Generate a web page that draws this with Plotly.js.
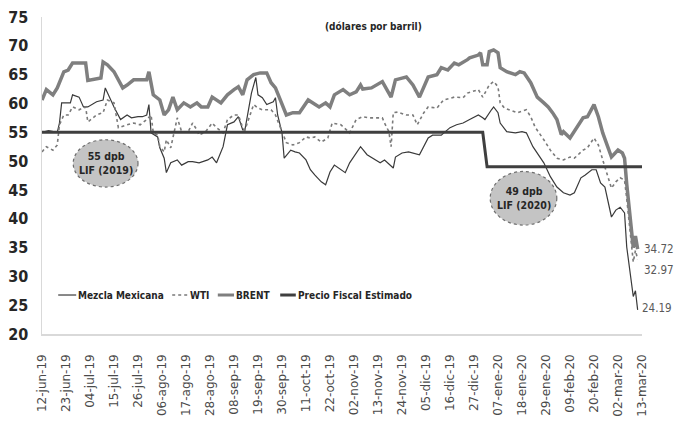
<!DOCTYPE html>
<html><head><meta charset="utf-8">
<script src="https://cdn.plot.ly/plotly-3.0.1.min.js"></script>
<style>html,body{margin:0;padding:0;background:#fff}#chart{width:682px;height:427px}</style>
</head><body><div id="chart"></div>
<script>
// ---- DATA (days counted from 12-jun-2019) ----
const startDate = '2019-06-12';
const brentDays = [0,2,5,7,10,12,14,20,21,27,28,30,33,37,39,42,48,49,51,54,56,58,60,62,65,68,71,73,76,78,82,85,88,90,92,94,97,100,103,105,107,110,112,115,118,122,124,127,130,132,134,138,141,144,146,147,151,155,156,160,162,165,167,170,173,177,181,183,186,189,191,195,196,200,201,202,204,205,207,209,210,213,217,219,221,224,227,230,232,234,236,238,239,242,245,248,250,253,255,257,261,264,266,267,268,271,272,273];
const brentVals = [60.6,62.4,61.5,62.7,65.5,65.8,67,67,64,64.4,67.2,66.7,65.5,62.7,63.2,64.1,64.1,65.5,61.5,60.6,58,58.9,61.1,58.9,60.1,59.4,60.1,59.4,59.4,61.1,60.1,61.5,62.4,62.9,61.5,64.1,65,65.3,65.3,63.6,62.7,60.1,58,58.4,58.4,60.6,60.1,59.4,60.1,59.4,61.5,62.4,61.5,62,63.2,62.5,62.7,63.6,63.8,61.1,64.1,64.4,64.6,63.2,61.1,64.6,65,66.2,65.8,67,66.7,67.6,67.9,68.4,68.8,66.7,66.7,69,69.3,68.8,66.2,65.5,65,65.5,65.3,63.6,61.1,60.1,59.4,58.4,57.2,54.6,55.1,54,55.9,57.5,57.7,59.8,57.7,54.9,50.7,51.9,51.4,50.5,46,35,37,34.72];
const wtiDays = [0,2,5,7,8,10,12,14,17,20,21,25,28,30,33,35,39,42,45,48,50,51,53,54,56,57,59,62,64,67,69,71,72,75,78,80,83,85,88,90,92,93,97,99,101,105,107,110,112,115,118,121,123,125,128,131,133,137,141,144,147,150,156,157,159,160,161,163,167,170,172,175,177,181,184,189,193,195,200,202,205,207,209,210,212,218,222,224,226,230,233,236,239,242,244,248,250,253,255,257,261,263,265,267,268,271,272,273];
const wtiVals = [51.6,52.5,51.9,52.8,56.3,58,58,59.4,58.9,59.4,56.8,58,58.4,60.6,60.1,55.8,56.3,56.6,56.3,57.2,58,54.9,54.5,52.5,51.6,53.7,52.3,57.5,55.1,55.1,56.6,55.4,54.5,55.1,56.6,55.8,54.9,57.2,58,58,55.8,55.4,59.8,59.2,58.9,58.9,58,54.9,53.2,52.8,53.2,54.2,54,54.2,53.3,54,56.6,56.3,54.9,57.2,57.7,57.5,57.5,56.6,55.1,52.5,58.4,58.5,58,58,56.3,58.4,59.4,59.2,60.6,61.1,61,61.8,62.4,61.1,63.2,63.8,62.9,60.1,59.2,58.4,58.9,57.7,55.9,53.7,51.9,50.5,50.2,50.7,50.5,51.9,52.3,54,52.8,50.2,45.3,46.4,47.1,46.7,43.5,32.5,34.5,32.97];
const mezDays = [0,3,7,8,9,13,14,17,19,21,25,28,29,30,33,36,39,41,44,46,48,49,50,53,54,56,57,59,62,64,67,69,72,76,78,80,83,85,88,90,92,93,96,98,99,101,103,106,107,108,110,111,114,116,118,121,123,125,128,130,132,134,137,139,141,146,149,155,157,161,162,165,168,170,173,177,179,183,185,187,190,193,196,200,202,203,206,207,209,210,213,217,220,222,225,228,230,233,236,239,242,244,245,247,249,252,254,256,258,261,263,265,267,268,271,272,273];
const mezVals = [55,55.3,55,56.6,60.1,60.1,61.5,61.1,59.4,59.4,60.3,60.6,62.7,61.8,59.4,57.2,58,57.5,57.7,57.7,58,59.8,54.9,54.2,52.3,50.5,48,49.7,50.2,49.3,49.9,49.9,49.7,50.2,50.7,49.7,52.5,56.3,56.8,57.7,55.4,55.4,61.8,64.5,61.5,61,59.8,60.3,61,58,54.9,50.5,51.9,51.6,51.4,50.2,48.5,47.6,46.4,45.9,48.1,49.3,48.5,48,49.7,52.5,51.1,49.7,50.2,48.8,50.7,51.4,51.6,51.4,51.1,54,54.5,54.5,55.1,55.8,56.3,56.6,57.2,58,57.5,57.2,58.9,59.4,58.4,56.6,55.1,54.9,55.1,54.9,52.5,50.7,49.7,47.3,45.5,44.5,44.1,44.5,45.3,47.1,47.6,48.5,48.5,46.2,45.5,40.3,41.5,42,41,35.1,26.5,27.5,24.19];
const fiscalDates = ['2019-06-12','2019-12-31','2020-01-02','2020-03-13'];
const fiscalVals = [55,55,49,49];
const tickDates = ['2019-06-12','2019-06-23','2019-07-04','2019-07-15','2019-07-26','2019-08-06','2019-08-17','2019-08-28','2019-09-08','2019-09-19','2019-09-30','2019-10-11','2019-10-22','2019-11-02','2019-11-13','2019-11-24','2019-12-05','2019-12-16','2019-12-27','2020-01-07','2020-01-18','2020-01-29','2020-02-09','2020-02-20','2020-03-02','2020-03-13'];
const tickLabels = ['12-jun-19','23-jun-19','04-jul-19','15-jul-19','26-jul-19','06-ago-19','17-ago-19','28-ago-19','08-sep-19','19-sep-19','30-sep-19','11-oct-19','22-oct-19','02-nov-19','13-nov-19','24-nov-19','05-dic-19','16-dic-19','27-dic-19','07-ene-20','18-ene-20','29-ene-20','09-feb-20','20-feb-20','02-mar-20','13-mar-20'];
const seriesNames = ['Mezcla Mexicana','WTI','BRENT','Precio Fiscal Estimado'];
const noteTexts = ['55 dpb<br>LIF (2019)','49 dpb<br>LIF (2020)'];
const titleText = '(dólares por barril)';

function toDate(d){ return new Date(Date.UTC(2019,5,12) + d*86400000).toISOString().slice(0,10); }
const brentX = brentDays.map(toDate), wtiX = wtiDays.map(toDate), mezX = mezDays.map(toDate);

const NARROW = '"DejaVu Sans Condensed", "Liberation Sans Narrow", "Liberation Sans", sans-serif';
const styles = [
  {color:'#3a3a3a', width:1.2},
  {color:'#7a7a7a', width:1.6, dash:'dot'},
  {color:'#7f7f7f', width:3.5},
  {color:'#3f3f3f', width:3}
];
const traces = [
  {x: mezX, y: mezVals, name: seriesNames[0], mode:'lines', line:styles[0]},
  {x: wtiX, y: wtiVals, name: seriesNames[1], mode:'lines', line:styles[1]},
  {x: brentX, y: brentVals, name: seriesNames[2], mode:'lines', line:styles[2]},
  {x: fiscalDates, y: fiscalVals, name: seriesNames[3], mode:'lines', line:styles[3]}
];
const last = a => a[a.length-1];
const lblFont = {family: NARROW, size: 11.5, color:'#595959'};
const boldFont = {family: NARROW, size: 10, color:'#262626', weight:'bold'};
const noteFont = {family: NARROW, size: 10.5, color:'#262626', weight:'bold'};

// custom legend (paper coordinates)
const legY = 0.123;
const legItems = [[0.027,0.057,0.060],[0.217,0.243,0.246],[0.293,0.320,0.323],[0.397,0.423,0.426]];
const legShapes = legItems.map((it,i)=>({type:'line', xref:'paper', yref:'paper', x0:it[0], x1:it[1], y0:legY, y1:legY,
  line:{color:styles[i].color, width:Math.min(styles[i].width,3), dash:styles[i].dash||'solid'}}));
const legAnn = legItems.map((it,i)=>({xref:'paper', yref:'paper', x:it[2], y:legY, xanchor:'left', yanchor:'middle', xshift:-2,
  text:seriesNames[i], showarrow:false, font:boldFont}));

const layout = {
  width: 682, height: 427,
  margin: {l:42, r:40, t:17, b:93},
  paper_bgcolor:'#fff', plot_bgcolor:'#fff',
  showlegend: false,
  xaxis: {type:'date', range:['2019-06-12','2020-03-13'], tickmode:'array', tickvals: tickDates, ticktext: tickLabels,
          tickangle:-90, tickfont:{family:'DejaVu Sans', size:12, color:'#4a4a4a'}, ticks:'', ticklabelstandoff:14,
          showgrid:false, zeroline:false, showline:true, linecolor:'#d9d9d9', linewidth:1.5},
  yaxis: {range:[20,75], tickmode:'array', tickvals:[20,25,30,35,40,45,50,55,60,65,70,75],
          tickfont:{family:NARROW, size:16, color:'#262626', weight:'bold'}, ticks:'', ticklabelstandoff:9,
          showgrid:false, zeroline:false, showline:true, linecolor:'#d9d9d9', linewidth:1.5},
  shapes: [
    {type:'circle', xref:'paper', yref:'y', x0:0.052, x1:0.160, y0:45.5, y1:53.7, fillcolor:'#c4c4c4', line:{color:'#6e6e6e', width:1.2, dash:'dot'}},
    {type:'circle', xref:'paper', yref:'y', x0:0.747, x1:0.858, y0:38.9, y1:48.2, fillcolor:'#c4c4c4', line:{color:'#6e6e6e', width:1.2, dash:'dot'}}
  ].concat(legShapes),
  annotations: [
    {xref:'paper', yref:'y', x:0.106, y:49.6, xanchor:'center', yanchor:'middle', text:noteTexts[0], showarrow:false, font:noteFont},
    {xref:'paper', yref:'y', x:0.8025, y:43.55, xanchor:'center', yanchor:'middle', text:noteTexts[1], showarrow:false, font:noteFont},
    {xref:'paper', yref:'paper', x:0.553, y:1.0, xanchor:'center', yanchor:'top', yshift:-2, text:titleText, showarrow:false, font:boldFont},
    {x:last(brentX), y:last(brentVals), text:String(last(brentVals)), showarrow:false, xanchor:'left', xshift:4, font:lblFont},
    {x:last(wtiX), y:last(wtiVals), text:String(last(wtiVals)), showarrow:false, xanchor:'left', xshift:4, yshift:-11, font:lblFont},
    {x:last(mezX), y:last(mezVals), text:String(last(mezVals)), showarrow:false, xanchor:'left', xshift:2, yshift:2, font:lblFont}
  ].concat(legAnn)
};
Plotly.newPlot('chart', traces, layout, {displayModeBar:false, staticPlot:true});
</script>
</body></html>
